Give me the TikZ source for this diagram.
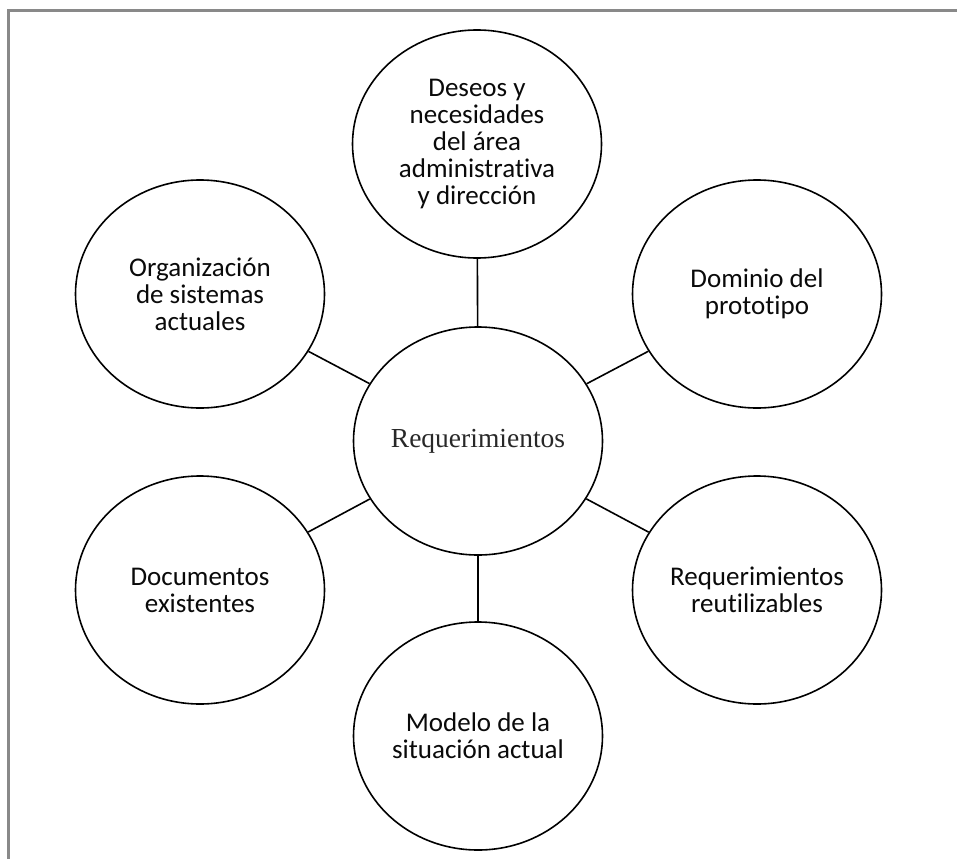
\documentclass[tikz,border=0pt]{standalone}
\usepackage{fontspec}
\setmainfont[RawFeature=-liga]{Carlito}
\newfontfamily\serifreq{Liberation Serif}
\usetikzlibrary{shapes.geometric}
\definecolor{framegray}{RGB}{137,137,137}
\definecolor{txtblack}{RGB}{10,10,10}
\definecolor{centertxt}{RGB}{40,40,40}
\tikzset{
  bubble/.style={ellipse, draw=black, line width=1.6pt, fill=white,
    minimum width=249pt, minimum height=228pt, inner sep=0pt,
    align=center, text=txtblack,
    font=\fontsize{27pt}{27pt}\selectfont},
  hub/.style={bubble, text=centertxt,
    font=\serifreq\fontsize{27.5pt}{28pt}\selectfont},
  spoke/.style={draw=black, line width=1.6pt},
  framestyle/.style={draw=framegray, line width=3pt}
}
\begin{document}
\begin{tikzpicture}[x=1pt,y=-1pt]
\useasboundingbox (0,0) rectangle (957,859);
\fill[white] (0,0) rectangle (957,859);
\coordinate (fr1) at (957,10.5);
\coordinate (fr2) at (8.5,10.5);
\coordinate (fr3) at (8.5,859);
\draw[framestyle] (fr1) -- (fr2) -- (fr3);

\node[hub] (c) at (478,441) {Requerimientos};
\node[bubble] (t) at (477,144) {Deseos y\\necesidades\\del área\\administrativa\\y dirección};
\node[bubble] (tl) at (200,294) {Organización\\de sistemas\\actuales};
\node[bubble] (tr) at (757,294) {Dominio del\\prototipo};
\node[bubble] (bl) at (200,590) {Documentos\\existentes};
\node[bubble] (br) at (757,590) {Requerimientos\\reutilizables};
\node[bubble] (b) at (478,736) {Modelo de la\\situación actual};

\draw[spoke] (c) -- (t);
\draw[spoke] (c) -- (tl);
\draw[spoke] (c) -- (tr);
\draw[spoke] (c) -- (bl);
\draw[spoke] (c) -- (br);
\draw[spoke] (c) -- (b);
\end{tikzpicture}
\end{document}
